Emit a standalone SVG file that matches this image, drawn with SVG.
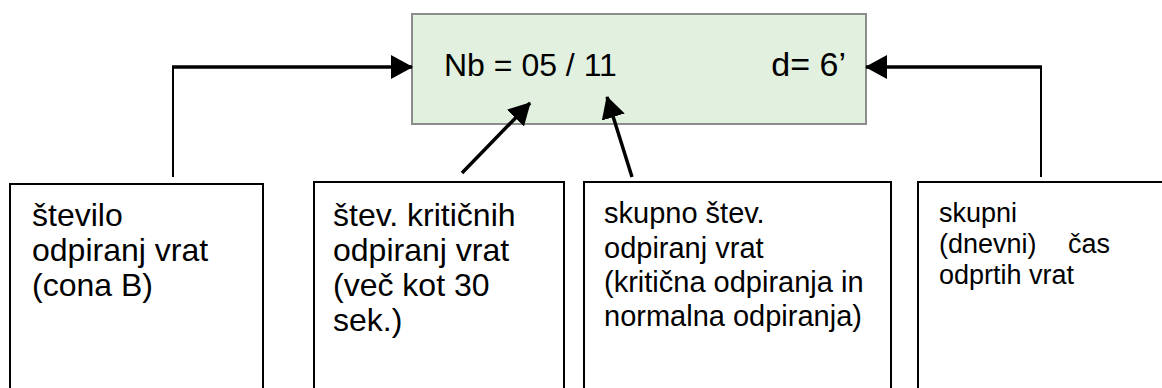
<svg xmlns="http://www.w3.org/2000/svg" width="1162" height="388" viewBox="0 0 1162 388">
<style>
.box{fill:#fff;stroke:#000;stroke-width:2}
.main{fill:#e2f0df;stroke:#8c8c8c;stroke-width:2}
.t{font-family:"Liberation Sans",Arial,sans-serif;fill:#000}
.conn{fill:none;stroke:#000;stroke-width:2}
.thick{stroke-width:3.5}
</style>
<defs>
<marker id="ah" viewBox="0 0 22 24" refX="21" refY="12" markerWidth="22" markerHeight="24" markerUnits="userSpaceOnUse" orient="auto">
<path d="M0,0 L22,12 L0,24 Z" fill="#000"/>
</marker>
</defs>
<g id="main">
<rect class="main" x="412" y="14" width="454" height="110"/>
<text class="t" x="444" y="76" font-size="32">Nb = 05 / 11</text>
<text class="t" x="846" y="76" font-size="34" text-anchor="end">d= 6’</text>
</g>
<g id="box1">
<rect class="box" x="10" y="184" width="253" height="220"/>
<text class="t" font-size="32"><tspan x="32" y="226">število</tspan><tspan x="32" y="261">odpiranj vrat</tspan><tspan x="32" y="296">(cona B)</tspan></text>
</g>
<g id="box2">
<rect class="box" x="314" y="182" width="250" height="222"/>
<text class="t" font-size="32"><tspan x="333" y="226">štev. kritičnih</tspan><tspan x="333" y="261">odpiranj vrat</tspan><tspan x="333" y="296">(več kot 30</tspan><tspan x="333" y="331">sek.)</tspan></text>
</g>
<g id="box3">
<rect class="box" x="584" y="182" width="307" height="222"/>
<text class="t" font-size="29"><tspan x="604" y="223">skupno štev.</tspan><tspan x="604" y="258">odpiranj vrat</tspan><tspan x="604" y="292">(kritična odpiranja in</tspan><tspan x="604" y="326">normalna odpiranja)</tspan></text>
</g>
<g id="box4">
<rect class="box" x="918" y="182" width="260" height="222"/>
<text class="t" font-size="27"><tspan x="939" y="222">skupni</tspan><tspan x="939" y="253">(dnevni)</tspan><tspan x="939" y="284">odprtih vrat</tspan></text>
<text class="t" font-size="27" x="1110" y="253" text-anchor="end">čas</text>
</g>
<g id="connectors">
<path class="conn" d="M173,177 V67"/>
<path class="conn thick" d="M172,67 H412" marker-end="url(#ah)"/>
<path class="conn" d="M1041,177 V67"/>
<path class="conn thick" d="M1042,67 H866" marker-end="url(#ah)"/>
<path class="conn thick" d="M462,173 L530,103" marker-end="url(#ah)"/>
<path class="conn thick" d="M632,177 L607,97" marker-end="url(#ah)"/>
</g>
</svg>
